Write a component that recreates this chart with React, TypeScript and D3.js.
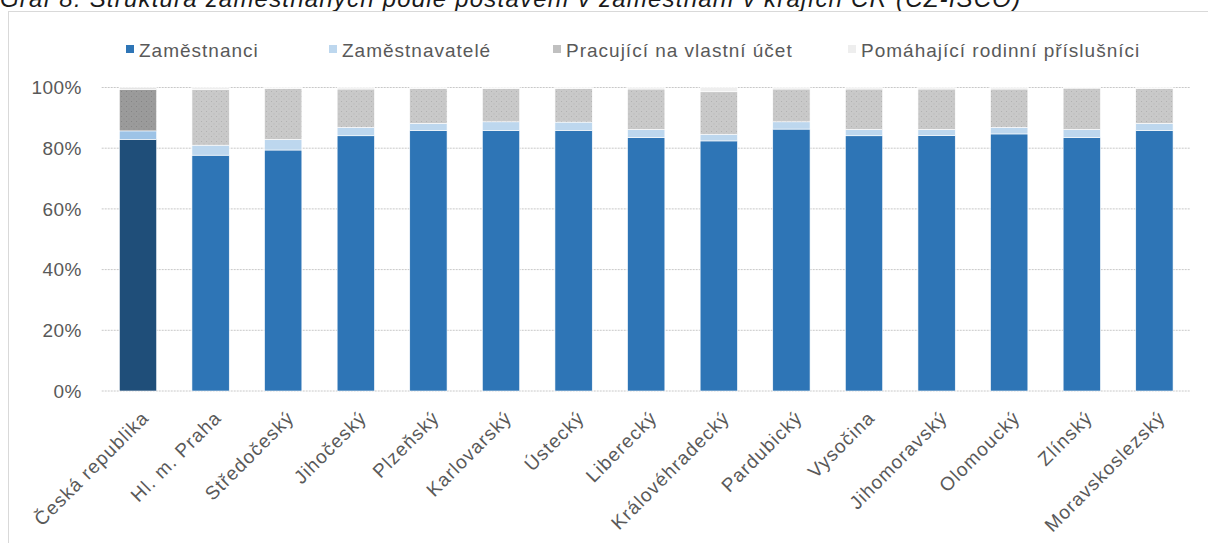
import React from "react";
import * as d3 from "d3";

// kraje + hodnoty v %
const regions = [
  "Česká republika", "Hl. m. Praha", "Středočeský", "Jihočeský", "Plzeňský",
  "Karlovarský", "Ústecký", "Liberecký", "Královéhradecký", "Pardubický",
  "Vysočina", "Jihomoravský", "Olomoucký", "Zlínský", "Moravskoslezský",
];
const zamestnanci = [82.9, 77.7, 79.4, 84.1, 85.8, 85.8, 85.9, 83.5, 82.4, 86.3, 84.1, 84.2, 84.7, 83.5, 85.8];
const zamestnavatele = [2.8, 3.3, 3.5, 2.8, 2.4, 2.9, 2.7, 2.7, 2.2, 2.4, 2.1, 2.0, 2.2, 2.7, 2.4];
const naVlastniUcet = [13.7, 18.4, 16.7, 12.6, 11.4, 10.9, 11.0, 13.3, 14.0, 10.8, 13.3, 13.3, 12.6, 13.6, 11.4];
const pomahajici = [0.6, 0.6, 0.4, 0.5, 0.4, 0.4, 0.4, 0.5, 1.4, 0.5, 0.5, 0.5, 0.5, 0.2, 0.4];

const seriesNames = ["Zaměstnanci", "Zaměstnavatelé", "Pracující na vlastní účet", "Pomáhající rodinní příslušníci"];
const yTicks = [0, 20, 40, 60, 80, 100];

const title = "Graf 8: Struktura zaměstnaných podle postavení v zaměstnání v krajích ČR (CZ-ISCO)";

const W = 1208, H = 543;
const font = "'Liberation Sans', Arial, sans-serif";
const txt = "#595959";

// barvy: [běžný kraj, ČR]
const fills = [
  ["#2e75b6", "#1f4e79"],
  ["#bdd7ee", "#9dc3e6"],
  ["url(#dotsLight)", "url(#dotsDark)"],
  ["#eeeeee", "#e4e4e4"],
];
const legendX = [126, 329, 553, 848];

const App = () => {
  const x = d3.scaleBand<string>()
    .domain(regions)
    .range([101.7, 1190.7])
    .paddingInner(0.486)
    .paddingOuter(0.243);

  const y = d3.scaleLinear().domain([0, 100]).range([391, 87.5]);

  const rows = regions.map((r, i) => ({
    region: r,
    s0: zamestnanci[i],
    s1: zamestnavatele[i],
    s2: naVlastniUcet[i],
    s3: pomahajici[i],
  }));
  const stack = d3.stack<any>().keys(["s0", "s1", "s2", "s3"])(rows);

  return (
    <svg width={W} height={H} style={{ position: "absolute", left: 0, top: 0, background: "#fff" }}>
      <defs>
        <pattern id="dotsLight" width="5" height="5" patternUnits="userSpaceOnUse">
          <rect width="5" height="5" fill="#c9c9c9" />
          <rect x="1" y="1" width="1" height="1" fill="#b2b2b2" />
          <rect x="3.5" y="3.5" width="1" height="1" fill="#b8b8b8" />
        </pattern>
        <pattern id="dotsDark" width="5" height="5" patternUnits="userSpaceOnUse">
          <rect width="5" height="5" fill="#9b9b9b" />
          <rect x="1" y="1" width="1" height="1" fill="#858585" />
          <rect x="3.5" y="3.5" width="1" height="1" fill="#8a8a8a" />
        </pattern>
      </defs>

      <text x={0} y={7} fontFamily={font} fontStyle="italic" fontSize={24} letterSpacing={1.2} fill="#1a1a1a">{title}</text>

      <rect x={8.5} y={11.5} width={1210} height={545} fill="none" stroke="#d9d9d9" />

      {/* legenda */}
      {seriesNames.map((n, i) => (
        <g key={n}>
          <rect x={legendX[i]} y={45} width={8} height={8} fill={i === 2 ? "#c0c0c0" : fills[i][0]} />
          <text x={legendX[i] + 13} y={57} fontFamily={font} fontSize={19} letterSpacing={1} fill={txt}>{n}</text>
        </g>
      ))}

      {/* mřížka a osa y */}
      {yTicks.map((t) => (
        <g key={t}>
          <line x1={101.7} x2={1190.7} y1={y(t)} y2={y(t)} stroke="#c8c8c8" strokeDasharray="2,1" />
          <text x={82} y={y(t)} dy="0.35em" textAnchor="end" fontFamily={font} fontSize={19} letterSpacing={0.5} fill={txt}>{t}%</text>
        </g>
      ))}

      {/* sloupce */}
      {stack.map((layer, si) => (
        <g key={si}>
          {layer.map((d, i) => (
            <rect
              key={i}
              x={x(regions[i])}
              y={y(d[1])}
              width={x.bandwidth()}
              height={y(d[0]) - y(d[1])}
              fill={fills[si][i === 0 ? 1 : 0]}
              stroke="#fff"
              strokeWidth={0.6}
            />
          ))}
        </g>
      ))}

      {/* popisky osy x */}
      {regions.map((r) => {
        const cx = (x(r) as number) + x.bandwidth() / 2 + 12;
        return (
          <text key={r} transform={`translate(${cx},419) rotate(-45)`} textAnchor="end"
            fontFamily={font} fontSize={19} letterSpacing={1.1} fill={txt}>{r}</text>
        );
      })}
    </svg>
  );
};

export default App;
